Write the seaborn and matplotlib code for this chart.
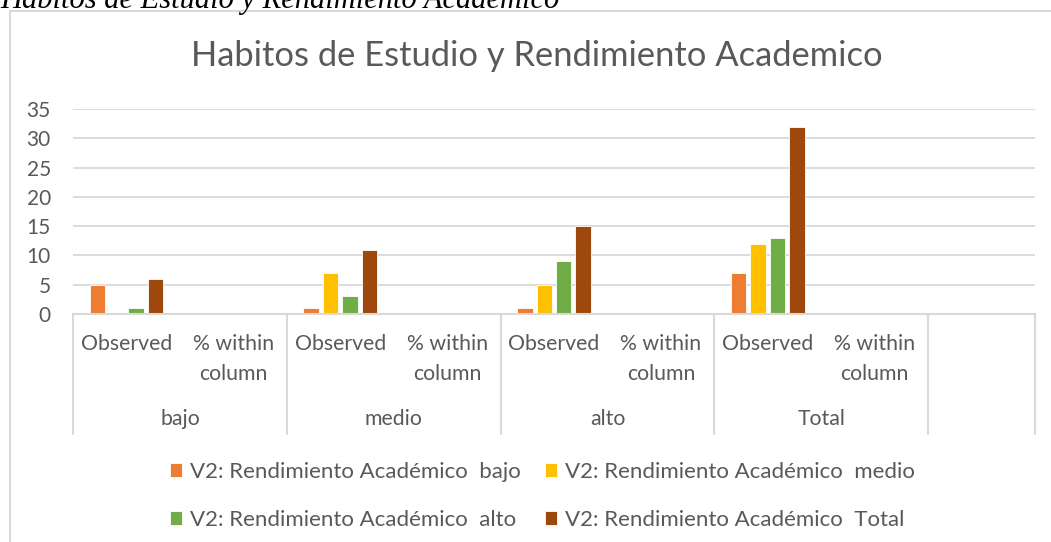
import pandas as pd
import numpy as np
import matplotlib.pyplot as plt
import matplotlib.transforms as mtransforms
from matplotlib.patches import Rectangle
import seaborn as sns

# data
groups = ["bajo", "medio", "alto", "Total"]
stats = ["Observed", "% within\ncolumn"]
series = ["V2: Rendimiento Académico  bajo", "V2: Rendimiento Académico  medio",
          "V2: Rendimiento Académico  alto", "V2: Rendimiento Académico  Total"]
# Observed counts per group (bajo, medio, alto, Total) for each series
obs_bajo = [5, 1, 1, 7]
obs_medio = [0, 7, 5, 12]
obs_alto = [1, 3, 9, 13]
obs_total = [6, 11, 15, 32]
# "% within column" rows carry no visible bars
pct_bajo = [np.nan, np.nan, np.nan, np.nan]
pct_medio = [np.nan, np.nan, np.nan, np.nan]
pct_alto = [np.nan, np.nan, np.nan, np.nan]
pct_total = [np.nan, np.nan, np.nan, np.nan]
colors = ["#ED7D31", "#FFC000", "#70AD47", "#9E480E"]

obs = [obs_bajo, obs_medio, obs_alto, obs_total]
pct = [pct_bajo, pct_medio, pct_alto, pct_total]
rows = []
for s, name in enumerate(series):
    for g, grp in enumerate(groups):
        rows.append({"cat": grp + "|" + stats[0], "serie": name, "val": obs[s][g]})
        rows.append({"cat": grp + "|" + stats[1], "serie": name, "val": pct[s][g]})
DF = pd.DataFrame(rows)
order = [g + "|" + st for g in groups for st in stats]

sns.set_theme(style="white")
plt.rcParams['font.family'] = ['Lato', 'DejaVu Sans']
txt = "#595959"
grid = "#d9d9d9"

fig = plt.figure(figsize=(10.51, 5.42), dpi=100)
ax = fig.add_axes([73/1051, 1-314/542, 962/1051, 205/542])

sns.barplot(data=DF, x="cat", y="val", hue="serie", order=order, hue_order=series,
            palette=colors, saturation=1, width=0.726, gap=0.21, edgecolor="white",
            linewidth=0.6, errorbar=None, ax=ax, legend=True)

ax.set_xlim(-0.5, len(order) + 0.5)
ax.set_ylim(0, 35)
ax.set_yticks(range(0, 36, 5))
ax.yaxis.grid(True, color=grid, lw=1.3)
ax.set_axisbelow(True)
for side in ["top", "right", "left"]:
    ax.spines[side].set_visible(False)
ax.spines["bottom"].set_color(grid)
ax.spines["bottom"].set_linewidth(1.5)
ax.tick_params(axis="y", length=0, pad=16, labelsize=15, labelcolor=txt)
ax.set_xticks([])
ax.set_xlabel("")
ax.set_ylabel("")

# multi level category axis
trans = mtransforms.blended_transform_factory(ax.transData, ax.transAxes)
seps = [i * len(stats) - 0.5 for i in range(len(groups) + 1)] + [len(order) + 0.5]
for xv in seps:
    ax.plot([xv, xv], [0, -0.585], transform=trans, color=grid, lw=1.5, clip_on=False)
for i, c in enumerate(order):
    g, st = c.split("|")
    ax.text(i, -0.1, st, transform=trans, ha="center", va="top", fontsize=15.3,
            color=txt, linespacing=1.6)
for i, g in enumerate(groups):
    ax.text(i * len(stats) + (len(stats) - 1) / 2, -0.512, g, transform=trans,
            ha="center", va="center", fontsize=15.3, color=txt)

# chart title, centred in the chart frame
fig.text(537/1051, 1-56/542, "Habitos de Estudio y Rendimiento Academico", fontsize=24.8,
         color=txt, ha="center", va="center")

handles, labels = ax.get_legend_handles_labels()
ax.get_legend().remove()
idx = [0, 2, 1, 3]
fig.legend([handles[i] for i in idx], [labels[i] for i in idx], ncol=2,
           loc="upper left", bbox_to_anchor=(150/1051, 1-442/542), frameon=False,
           fontsize=16, labelcolor=txt, handlelength=0.55, handleheight=0.55,
           handletextpad=0.35, columnspacing=1.1, labelspacing=1.25)

# outer chart frame, cut by the image edges
fig.patches.append(Rectangle((10/1051, -0.1), 1.2, 1.1 - 11/542, transform=fig.transFigure,
                             fill=False, ec=grid, lw=1.4))
# caption text cut off at the top of the image
fig.text(0.0, 1-8/542, "Habitos de Estudio y Rendimiento Academico", family="Liberation Serif",
         style="italic", fontsize=22, va="baseline", ha="left", color="black")

fig.savefig("out.png", dpi=100)
